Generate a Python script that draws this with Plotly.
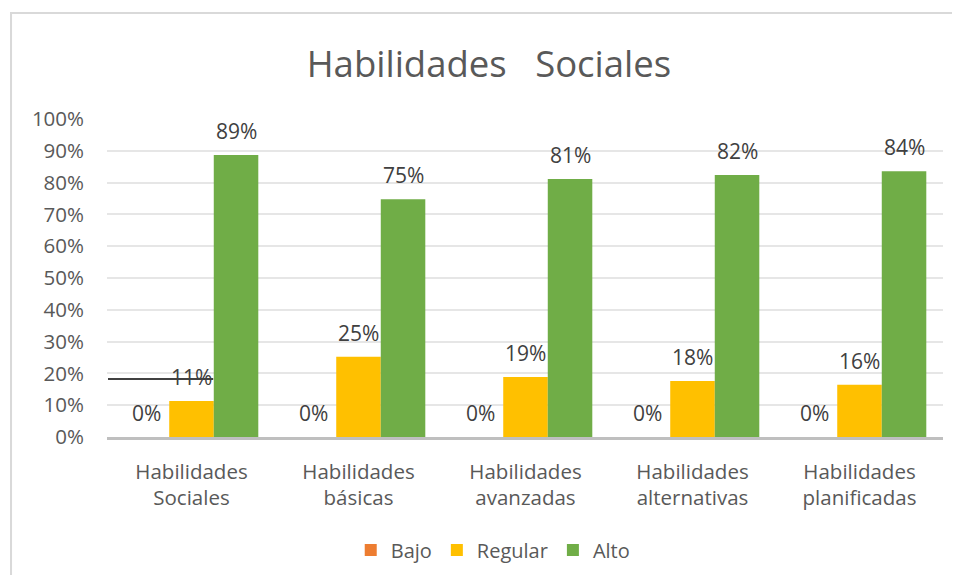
import plotly.graph_objects as go

categories = ["Habilidades<br>Sociales", "Habilidades<br>básicas", "Habilidades<br>avanzadas",
              "Habilidades<br>alternativas", "Habilidades<br>planificadas"]
bajo = [0.0, 0.0, 0.0, 0.0, 0.0]
regular = [0.113, 0.252, 0.189, 0.176, 0.164]
alto = [0.887, 0.748, 0.811, 0.824, 0.836]
series_names = ["Bajo", "Regular", "Alto"]
colors = ["#ED7D31", "#FFC000", "#70AD47"]
yticks = [i / 10 for i in range(11)]
ytick_labels = [f"{i*10}%" for i in range(11)]

FONT = "Open Sans"
BARGAP = 0.2
fig = go.Figure()
series = [bajo, regular, alto]
for name, vals, col in zip(series_names, series, colors):
    fig.add_trace(go.Bar(
        name=name, x=categories, y=vals, marker_color=col, marker_line_width=0,
    ))

# data labels above each bar (positioned from data values)
bw = (1 - BARGAP) / len(series)
for k, vals in enumerate(series):
    for i, v in enumerate(vals):
        fig.add_annotation(x=i + (k - 1) * bw, y=v, xref="x", yref="y",
                           text=f"{round(v*100):.0f}%", showarrow=False,
                           yanchor="bottom", yshift=8,
                           font=dict(family=FONT, size=21, color="#404040"))

fig.update_layout(
    width=944, height=567,
    margin=dict(l=99, r=9, t=111, b=138, autoexpand=False),
    paper_bgcolor="white", plot_bgcolor="white",
    barmode="group", bargap=BARGAP, bargroupgap=0,
    title=dict(text="Habilidades\u00a0\u00a0\u00a0Sociales", x=0.5095, xanchor="center", y=0.901, yanchor="middle",
               font=dict(family=FONT, size=36.5, color="#595959")),
    font=dict(family=FONT, color="#595959"),
    legend=dict(orientation="h", x=0.462, xanchor="center", y=-0.355, yanchor="middle",
                font=dict(family=FONT, size=20, color="#595959"), traceorder="normal",
                itemwidth=30),
)
fig.update_yaxes(range=[0, 1], tickvals=yticks, ticktext=ytick_labels,
                 showgrid=True, gridcolor="#e6e6e6", gridwidth=1.5, zeroline=False,
                 tickfont=dict(family=FONT, size=20.5, color="#595959"), ticks="", showline=False,
                 ticklabelstandoff=22, automargin=False)
fig.update_xaxes(showline=True, linecolor="#bfbfbf", linewidth=3,
                 tickfont=dict(family=FONT, size=20.5, color="#595959"), ticks="",
                 ticklabelstandoff=14, automargin=False)

# chart border
fig.add_shape(type="rect", xref="paper", yref="paper", x0=-0.1148, x1=1.2, y0=-0.6, y1=1.3333,
              line=dict(color="#d9d9d9", width=2), fillcolor="rgba(0,0,0,0)", layer="below")
# stray line in reference
fig.add_shape(type="line", xref="x", yref="y", x0=-0.5, x1=0.13, y0=0.182, y1=0.182,
              line=dict(color="#404040", width=2), layer="above")

fig.write_html("out.html")
